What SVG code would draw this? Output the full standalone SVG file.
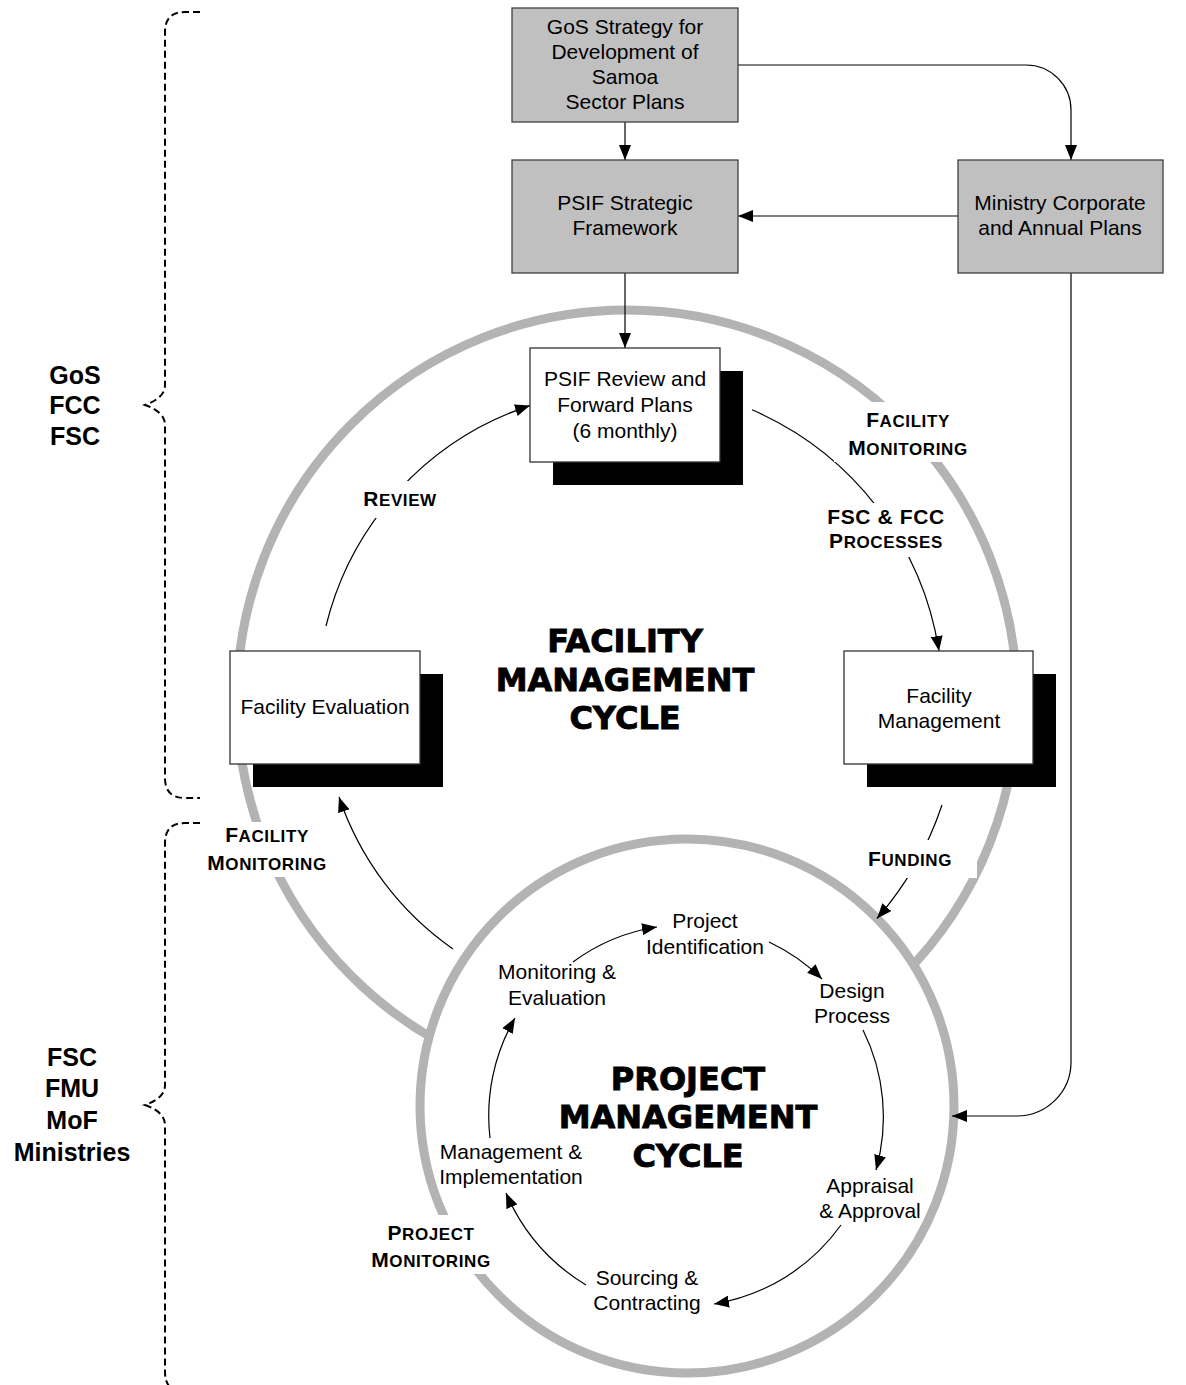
<svg xmlns="http://www.w3.org/2000/svg" width="1186" height="1385" viewBox="0 0 1186 1385">
<defs>
<marker id="ah" markerUnits="userSpaceOnUse" markerWidth="15" markerHeight="12" refX="15" refY="6" orient="auto"><path d="M0,0 L15,6 L0,12 z" fill="#000"/></marker>
</defs>
<style>
.t{font-family:"Liberation Sans",Arial,sans-serif;font-size:21px;fill:#000;text-anchor:middle}
.b{font-family:"Liberation Sans",Arial,sans-serif;font-weight:bold;font-size:25px;text-anchor:middle}
.sc{font-family:"Liberation Sans",Arial,sans-serif;font-weight:bold;font-size:17px;text-anchor:middle;letter-spacing:0.6px}
.cap{font-size:21px}
.title{font-family:"DejaVu Sans",sans-serif;font-weight:bold;font-size:32px;text-anchor:middle;stroke:#000;stroke-width:0.9}
.gbox{fill:#c0c0c0;stroke:#404040;stroke-width:1.3}
.wbox{fill:#fff;stroke:#333;stroke-width:1.3}
.shadow{fill:#000}
.ring{fill:none;stroke:#b3b3b3;stroke-width:9}
.ring2{fill:#fff;stroke:#b3b3b3;stroke-width:9}
.ln{fill:none;stroke:#000;stroke-width:1.2}
.arr{marker-end:url(#ah)}
.brace{fill:none;stroke:#000;stroke-width:2;stroke-dasharray:7 4}
.bg{fill:#fff}
</style>

<g id="braces">
<path class="brace" d="M200,12 H185 Q165,12 165,32 V385 Q165,398 145,405 Q165,412 165,425 V778 Q165,798 185,798 H200"/>
<path class="brace" d="M200,823 H185 Q165,823 165,843 V1085 Q165,1098 145,1105 Q165,1112 165,1125 V1372 Q165,1392 185,1392"/>
</g>

<g id="side-labels">
<text class="b" x="75" y="384">GoS</text>
<text class="b" x="75" y="414">FCC</text>
<text class="b" x="75" y="445">FSC</text>
<text class="b" x="72" y="1066">FSC</text>
<text class="b" x="72" y="1097">FMU</text>
<text class="b" x="72" y="1129">MoF</text>
<text class="b" x="72" y="1161">Ministries</text>
</g>

<g id="facility-cycle-ring">
<circle class="ring" cx="627" cy="700" r="390"/>
</g>
<g id="project-cycle-ring">
<circle class="ring2" cx="687" cy="1106" r="267"/>
</g>

<g id="connectors">
<path class="ln arr" d="M625,122 V160"/>
<path class="ln arr" d="M738,65 H1026 A45,45 0 0 1 1071,110 V160"/>
<path class="ln arr" d="M958,216 H738"/>
<path class="ln arr" d="M625,273 V348"/>
<path class="ln arr" d="M1071,273 V1062 A54,54 0 0 1 1017,1116 H952"/>
<path class="ln arr" d="M326,626 A310,310 0 0 1 530,405.6"/>
<path class="ln arr" d="M752,409.8 A316,316 0 0 1 939,651"/>
<path class="ln arr" d="M942,805 A332,332 0 0 1 877,918.5"/>
<path class="ln arr" d="M453,949 A304,304 0 0 1 339,797"/>
<path class="ln arr" d="M573,962 A190,190 0 0 1 657,927"/>
<path class="ln arr" d="M769,942 A190,190 0 0 1 822,979"/>
<path class="ln arr" d="M863,1030 A195,195 0 0 1 876,1170"/>
<path class="ln arr" d="M841,1225 A195,195 0 0 1 714,1304"/>
<path class="ln arr" d="M586,1285 A200,200 0 0 1 506,1193"/>
<path class="ln arr" d="M490,1138 A195,195 0 0 1 515,1018"/>
</g>

<g id="gos-strategy">
<rect class="gbox" x="512" y="8" width="226" height="114"/>
<text class="t" x="625" y="34">GoS Strategy for</text>
<text class="t" x="625" y="59">Development of</text>
<text class="t" x="625" y="84">Samoa</text>
<text class="t" x="625" y="109">Sector Plans</text>
</g>

<g id="psif-strategic">
<rect class="gbox" x="512" y="160" width="226" height="113"/>
<text class="t" x="625" y="210">PSIF Strategic</text>
<text class="t" x="625" y="235">Framework</text>
</g>

<g id="ministry-plans">
<rect class="gbox" x="958" y="160" width="205" height="113"/>
<text class="t" x="1060" y="210">Ministry Corporate</text>
<text class="t" x="1060" y="235">and Annual Plans</text>
</g>

<g id="psif-review">
<rect class="shadow" x="553" y="371" width="190" height="114"/>
<rect class="wbox" x="530" y="348" width="190" height="114"/>
<text class="t" x="625" y="386">PSIF Review and</text>
<text class="t" x="625" y="412">Forward Plans</text>
<text class="t" x="625" y="438">(6 monthly)</text>
</g>

<g id="facility-evaluation">
<rect class="shadow" x="253" y="674" width="190" height="113"/>
<rect class="wbox" x="230" y="651" width="190" height="113"/>
<text class="t" x="325" y="714">Facility Evaluation</text>
</g>

<g id="facility-management">
<rect class="shadow" x="867" y="674" width="189" height="113"/>
<rect class="wbox" x="844" y="651" width="189" height="113"/>
<text class="t" x="939" y="703">Facility</text>
<text class="t" x="939" y="728">Management</text>
</g>

<g id="facility-title">
<text class="title" x="625" y="652">FACILITY</text>
<text class="title" x="625" y="691">MANAGEMENT</text>
<text class="title" x="625" y="729">CYCLE</text>
</g>

<g id="project-title">
<text class="title" x="688" y="1090">PROJECT</text>
<text class="title" x="688" y="1128">MANAGEMENT</text>
<text class="title" x="688" y="1167">CYCLE</text>
</g>

<g id="project-identification">
<text class="t" x="705" y="928">Project</text>
<text class="t" x="705" y="954">Identification</text>
</g>
<g id="design-process">
<text class="t" x="852" y="998">Design</text>
<text class="t" x="852" y="1023">Process</text>
</g>
<g id="appraisal-approval">
<text class="t" x="870" y="1193">Appraisal</text>
<text class="t" x="870" y="1218">&amp; Approval</text>
</g>
<g id="sourcing-contracting">
<text class="t" x="647" y="1285">Sourcing &amp;</text>
<text class="t" x="647" y="1310">Contracting</text>
</g>
<g id="management-implementation">
<text class="t" x="511" y="1159">Management &amp;</text>
<text class="t" x="511" y="1184">Implementation</text>
</g>
<g id="monitoring-evaluation">
<text class="t" x="557" y="979">Monitoring &amp;</text>
<text class="t" x="557" y="1005">Evaluation</text>
</g>

<g id="label-review">
<rect class="bg" x="362" y="481" width="78" height="37"/>
<text class="sc" x="400" y="506"><tspan class="cap">R</tspan>EVIEW</text>
</g>
<g id="label-facility-monitoring-top">
<rect class="bg" x="834" y="402" width="146" height="60"/>
<text class="sc" x="908" y="427"><tspan class="cap">F</tspan>ACILITY</text>
<text class="sc" x="908" y="455"><tspan class="cap">M</tspan>ONITORING</text>
</g>
<g id="label-fsc-fcc">
<rect class="bg" x="826" y="503" width="120" height="54"/>
<text class="sc" x="886" y="524"><tspan class="cap">FSC &amp; FCC</tspan></text>
<text class="sc" x="886" y="548"><tspan class="cap">P</tspan>ROCESSES</text>
</g>
<g id="label-funding">
<rect class="bg" x="862" y="840" width="115" height="38"/>
<text class="sc" x="910" y="866"><tspan class="cap">F</tspan>UNDING</text>
</g>
<g id="label-facility-monitoring-left">
<rect class="bg" x="203" y="822" width="131" height="55"/>
<text class="sc" x="267" y="842"><tspan class="cap">F</tspan>ACILITY</text>
<text class="sc" x="267" y="870"><tspan class="cap">M</tspan>ONITORING</text>
</g>
<g id="label-project-monitoring">
<rect class="bg" x="370" y="1215" width="122" height="59"/>
<text class="sc" x="431" y="1240"><tspan class="cap">P</tspan>ROJECT</text>
<text class="sc" x="431" y="1267"><tspan class="cap">M</tspan>ONITORING</text>
</g>
</svg>
